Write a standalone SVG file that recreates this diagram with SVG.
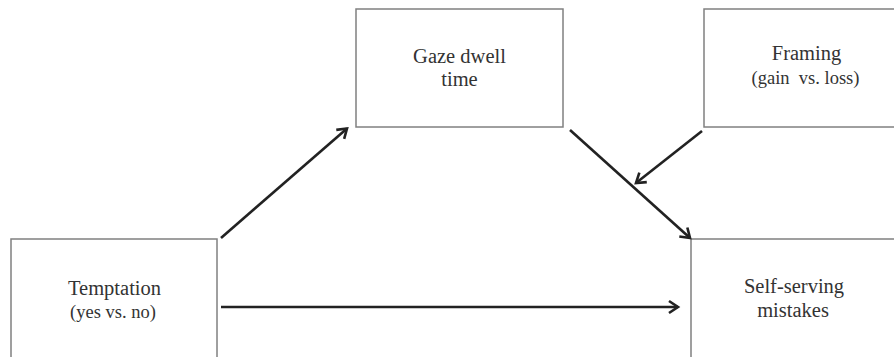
<svg xmlns="http://www.w3.org/2000/svg" width="894" height="357" viewBox="0 0 894 357">
<style>
.box{fill:#fff;stroke:#808080;stroke-width:1.5}
.t{font-family:"Liberation Serif","Times New Roman",serif;font-size:20.5px;fill:#333;text-anchor:middle}
.s{font-size:18.5px}
.c{stroke:#222;stroke-width:2.6;fill:none;marker-end:url(#ah)}
</style>
<defs>
<marker id="ah" markerUnits="userSpaceOnUse" markerWidth="16" markerHeight="16" refX="12" refY="7" orient="auto" viewBox="0 0 16 14">
<path d="M3,1 L12,7 L3,13" fill="none" stroke="#222" stroke-width="2.6" stroke-linejoin="miter"/>
</marker>
</defs>
<rect width="894" height="357" fill="#fff"/>
<g id="gaze">
<rect class="box" x="356" y="9" width="207" height="118"/>
<text class="t" x="459.5" y="63">Gaze dwell</text>
<text class="t" x="459.5" y="86">time</text>
</g>
<g id="framing">
<rect class="box" x="704" y="9" width="205" height="118"/>
<text class="t" x="806.5" y="60">Framing</text>
<text class="t s" x="805.5" y="84" xml:space="preserve">(gain  vs. loss)</text>
</g>
<g id="temptation">
<rect class="box" x="11" y="239" width="206" height="130"/>
<text class="t" x="114.5" y="295">Temptation</text>
<text class="t s" x="113" y="318">(yes vs. no)</text>
</g>
<g id="selfserving">
<rect class="box" x="691" y="239" width="206" height="130"/>
<text class="t" x="794" y="293">Self-serving</text>
<text class="t" x="793" y="317">mistakes</text>
</g>
<g id="connectors">
<line class="c" x1="221" y1="238" x2="347" y2="128.5"/>
<line class="c" x1="570" y1="130" x2="690" y2="238"/>
<line class="c" x1="702" y1="131" x2="636" y2="183"/>
<line class="c" x1="221" y1="307" x2="678" y2="307"/>
</g>
</svg>
